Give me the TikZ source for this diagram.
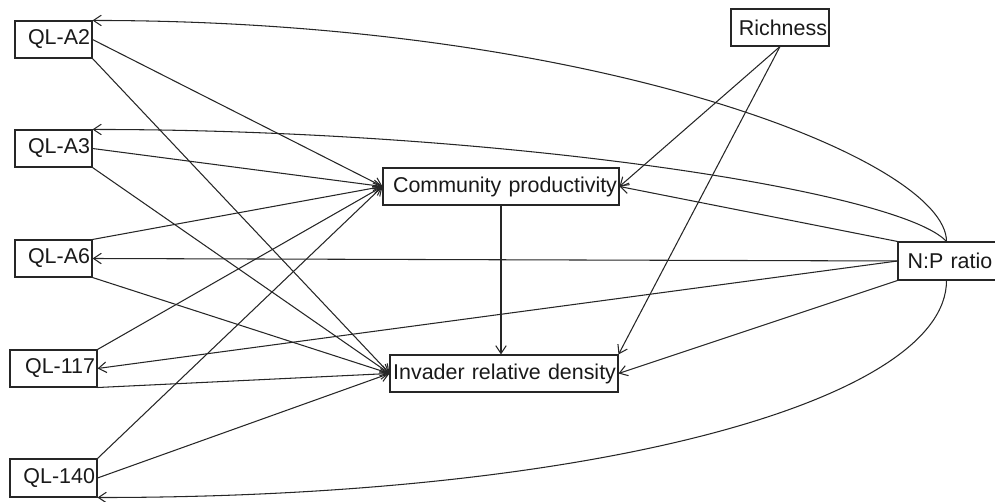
\documentclass[tikz,border=0pt]{standalone}
\usepackage{fontspec}
\setmainfont{Liberation Sans}
\usetikzlibrary{arrows.meta}
\begin{document}
\begin{tikzpicture}[x=0.02cm,y=-0.02cm,
  box/.style={draw=black!85, line width=0.6pt, minimum height=0.74cm, inner ysep=0pt,
    inner xsep=0.04cm, align=right, font=\fontsize{12.2}{14}\selectfont, text=black!90},
  edge/.style={draw=black!85, line width=0.6pt, -{Straight Barb[length=4.5pt,width=6pt]}}]
\useasboundingbox (0,0) rectangle (995,502);
\node[box, text width=1.46cm] (a2) at (53.5,39.5) {QL-A2};
\node[box, text width=1.46cm] (a3) at (53.5,148.5) {QL-A3};
\node[box, text width=1.46cm] (a6) at (53.5,258.5) {QL-A6};
\node[box, text width=1.66cm] (q117) at (53.5,368.5) {QL-117};
\node[box, text width=1.66cm, minimum height=0.76cm] (q140) at (53.5,478) {QL-140};
\node[box, text width=4.64cm] (cp) at (501,186.5) {Community productivity};
\node[box, text width=4.48cm] (ird) at (504,373.5) {Invader relative density};
\node[box, text width=1.88cm] (rich) at (780,27.5) {Richness};
\node[box, align=center, text width=2.0cm, minimum height=0.76cm] (np) at (950,261) {N:P ratio};

% QL nodes to centre nodes
\draw[edge] (a2.east) -- (cp.west);
\draw[edge] (a2.south east) -- (ird.west);
\draw[edge] (a3.east) -- (cp.west);
\draw[edge] (a3.south east) -- (ird.west);
\draw[edge] (a6.north east) -- (cp.west);
\draw[edge] (a6.south east) -- (ird.west);
\draw[edge] (q117.north east) -- (cp.west);
\draw[edge] (q117.south east) -- (ird.west);
\draw[edge] (q140.north east) -- (cp.west);
\draw[edge] (q140.east) -- (ird.west);

% Richness
\draw[edge] (rich.south) -- (cp.east);
\draw[edge] (rich.south) -- (ird.north east);

% CP to IRD
\draw[edge] (cp.south) -- (cp.south |- ird.north);

% N:P ratio
\draw[edge] (np.north west) -- (cp.east);
\draw[edge] (np.south west) -- (ird.east);
\draw[edge] (np.west) -- (a6.east);
\draw[edge] (np.west) -- (q117.east);
\draw[edge] ([xshift=-0.07cm]np.north) .. controls +(0,-81) and +(505,0) .. (a2.north east);
\draw[edge] ([xshift=-0.07cm]np.north) .. controls +(-47,-51) and +(405,0) .. (a3.north east);
\draw[edge] ([xshift=-0.07cm]np.south) .. controls +(0,119) and +(503,0) .. (q140.south east);
\end{tikzpicture}
\end{document}
